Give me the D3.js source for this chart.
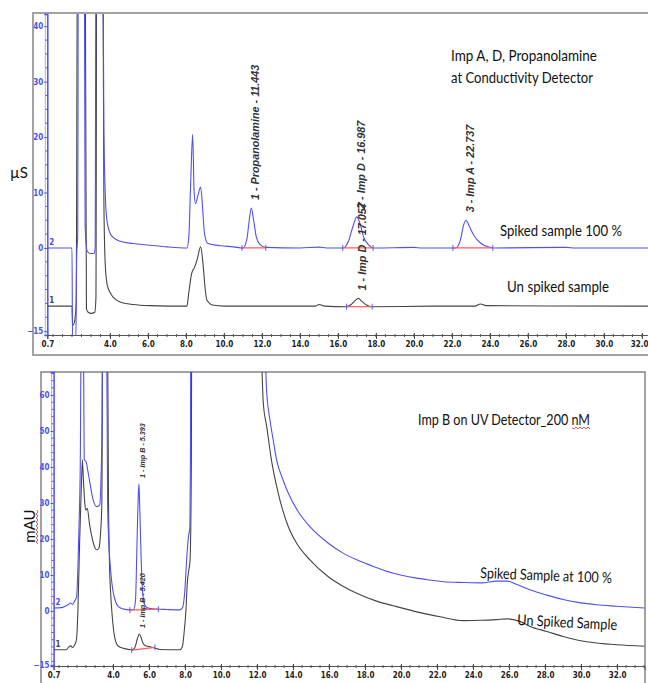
<!DOCTYPE html>
<html><head><meta charset="utf-8">
<script src="https://cdn.jsdelivr.net/npm/d3@7/dist/d3.min.js"></script>
<style>body{margin:0;background:#fff}svg{display:block}</style>
</head><body>
<svg id="c" width="648" height="683"></svg>
<script>
// ---------- DATA ----------
const xTickLabels = [0.7, 4, 6, 8, 10, 12, 14, 16, 18, 20, 22, 24, 26, 28, 30, 32];
const condYTickLabels = [-15, 0, 10, 20, 30, 40];
const uvYTickLabels = [-15, 0, 10, 20, 30, 40, 50, 60];

// Conductivity detector, [time min, µS]
const condSpiked = [[0.7,0],[2.0,0],[2.03,-17],[2.2,-17],[2.25,-1],[2.3,2],[2.34,70],[2.64,70],[2.69,4],[2.8,-0.6],[2.95,-1],[3.15,-1],[3.22,0],[3.27,70],[3.6,70],[3.68,20.7],[3.8,6.3],[3.9,3.8],[4.0,2.7],[4.2,1.8],[4.53,1.2],[5.2,0.8],[6.1,0.5],[7.0,0.2],[8.05,0],[8.15,2],[8.25,12],[8.35,20.5],[8.43,10],[8.5,8],[8.63,9.5],[8.77,11],[8.88,7],[8.97,2.7],[9.15,0.8],[9.8,0.4],[10.5,0.2],[11.0,0],[11.2,1.5],[11.33,5],[11.44,7.2],[11.56,5],[11.7,2],[11.9,0.6],[12.2,0.1],[14,0],[15,0.15],[15.4,0],[16.3,0],[16.55,1.2],[16.8,4],[16.99,5.6],[17.15,4.5],[17.35,2],[17.6,0.6],[17.9,0],[20,0.1],[20.4,0],[22.2,0],[22.45,1.5],[22.62,4.2],[22.74,5.0],[22.9,4.0],[23.15,2.3],[23.5,0.9],[23.9,0.2],[24.2,0],[28,0.1],[28.5,0],[32.32,0]];
const condUnspiked = [[0.7,-10.5],[2.0,-10.5],[2.03,-14],[2.12,-13.5],[2.22,-10],[2.3,70],[2.68,70],[2.76,-11],[2.85,-11.6],[3.0,-11.8],[3.2,-11.6],[3.26,-9],[3.31,70],[3.6,70],[3.68,8],[3.75,-3],[3.85,-6.6],[4.05,-8.3],[4.5,-9.7],[5.2,-10.2],[6.1,-10.4],[8.05,-10.5],[8.15,-8],[8.3,-4.6],[8.45,-3.5],[8.58,-2.2],[8.77,0.2],[8.9,-3],[9.0,-7],[9.1,-9.4],[9.4,-10.3],[10,-10.5],[14.8,-10.5],[15.0,-10.2],[15.3,-10.5],[16.4,-10.6],[16.7,-10.2],[16.9,-9.5],[17.07,-9.1],[17.25,-9.6],[17.5,-10.3],[17.8,-10.6],[21,-10.5],[23.2,-10.5],[23.5,-10.1],[23.8,-10.4],[32.32,-10.5]];

// UV detector, [time min, mAU]
const uvSpiked = [[0.7,0.8],[1.2,1.0],[1.5,1.7],[1.65,2.2],[1.75,1.8],[1.85,2.6],[1.98,4],[2.05,12],[2.12,25],[2.18,40],[2.25,90],[2.34,90],[2.4,42],[2.5,41.5],[2.6,39],[2.72,35.5],[2.9,30.8],[3.09,29],[3.26,29.5],[3.33,36],[3.39,53],[3.43,90],[3.63,90],[3.7,30],[3.76,20],[3.84,13],[3.93,8],[4.02,5],[4.15,2.5],[4.3,1.2],[4.6,0.5],[4.9,0.3],[5.15,0.4],[5.25,3],[5.33,18],[5.4,32],[5.44,35.3],[5.49,28],[5.56,15],[5.64,5.5],[5.75,1.8],[5.9,0.9],[6.2,0.6],[7.0,0.4],[7.7,0.3],[7.85,0.8],[7.98,5],[8.1,15],[8.2,21],[8.27,23],[8.3,40],[8.33,90],[12.3,90],[12.54,60.5],[12.72,53],[12.9,47.5],[13.09,41.9],[13.4,37],[13.74,32.7],[14.3,27.5],[14.94,23.4],[15.96,18.8],[16.8,16],[17.54,14.2],[18.5,12.3],[19.57,10.5],[20.8,9.2],[21.6,8.6],[22.35,8.1],[23.46,7.9],[24.5,7.8],[25.3,8.3],[25.9,8.3],[26.4,7.4],[27.2,5.8],[28.1,4.4],[29.0,3.2],[29.9,2.3],[30.87,1.7],[31.98,1.3],[33.53,0.8]];
const uvUnspiked = [[0.7,-10.8],[1.4,-10.8],[1.55,-10.0],[1.65,-9.7],[1.75,-10.2],[1.85,-9.6],[1.97,-8],[2.05,0],[2.15,20],[2.25,36],[2.3,42],[2.36,36],[2.44,29.5],[2.5,28],[2.57,28.5],[2.7,24],[2.85,20],[3.0,17.5],[3.1,17],[3.22,17.5],[3.3,21],[3.38,30],[3.44,90],[3.68,90],[3.75,30],[3.8,14],[3.88,4],[3.95,-1],[4.05,-6],[4.15,-8.5],[4.3,-9.8],[4.6,-10.4],[5.0,-10.8],[5.18,-10.5],[5.26,-9.5],[5.35,-7.8],[5.46,-6.4],[5.55,-7.2],[5.65,-8.8],[5.78,-9.6],[6.0,-9.9],[6.3,-10.3],[6.6,-10.7],[7.7,-10.8],[7.85,-10],[7.95,-6],[8.05,0],[8.13,8],[8.2,11],[8.28,14],[8.35,40],[8.38,90],[12.1,90],[12.35,57.7],[12.54,51.2],[12.8,42],[13.18,32.7],[13.74,23.4],[14.2,18.8],[14.94,14.2],[15.96,9.5],[16.8,6.8],[17.54,4.9],[18.6,2.8],[19.76,1.2],[21.0,-0.4],[22.17,-1.6],[23.46,-2.7],[24.5,-2.6],[25.3,-2.4],[25.9,-2.2],[26.6,-2.9],[27.17,-4.3],[28.1,-5.7],[29.0,-7.1],[29.9,-8.2],[30.87,-8.9],[31.98,-9.4],[33.53,-9.8]];

// Integration baselines [t1, v1, t2, v2]
const condBaselines = [[10.95,0,12.2,0],[16.25,0,17.85,0],[16.45,-10.6,17.8,-10.6],[22.05,0,24.15,0]];
const uvBaselines = [[4.94,0.2,6.52,0.5],[5.04,-10.9,6.33,-10.1]];

// Peak labels
const condPeakNames = ["1 - Propanolamine - 11.443","2 - Imp D - 16.987","1 - Imp D - 17.057","3 - Imp A - 22.737"];
const condPeakTimes = [11.443, 16.987, 17.057, 22.737];
const condPeakHeights = [7.2, 5.6, -9.1, 5.0];
const uvPeakNames = ["1 - Imp B - 5.393","1 - Imp B - 5.420"];
const uvPeakTimes = [5.393, 5.420];
const uvPeakHeights = [35.3, -6.4];

// ---------- DRAW ----------
const svg = d3.select("#c");
const blue = "#4f4ff2", black = "#454545", red = "#ff5a5a", frameC = "#8c8c8c";
const labelFont = "'DejaVu Sans Condensed','Liberation Sans Narrow','Liberation Sans',sans-serif";

function panel(cfg) {
  const {x, y, id, frame, yTicks, yMinorStep, traces, baselines, names, times, heights, peakFont, peakGap, tagPos, lastEnd} = cfg;
  const [x0, x1] = x.range(), [yb, yt] = y.range();
  svg.append("rect").attr("x", frame[0]).attr("y", frame[1]).attr("width", frame[2]).attr("height", frame[3])
    .attr("fill", "#fff").attr("stroke", frameC).attr("stroke-width", 1.6);
  svg.append("line").attr("x1", x0 - 2).attr("x2", x0 - 2).attr("y1", yt).attr("y2", yb).attr("stroke", "#b5b5b5");
  svg.append("defs").append("clipPath").attr("id", id).append("rect")
    .attr("x", x0).attr("y", yt).attr("width", x1 - x0).attr("height", yb - yt);

  const xa = svg.append("g").attr("transform", `translate(0,${yb})`)
    .call(d3.axisBottom(x).tickValues(xTickLabels).tickSize(4).tickFormat(d3.format(".1f")));
  xa.select(".domain").attr("stroke", "#555");
  xa.selectAll(".tick line").attr("stroke", "#444").attr("y1", -2);
  xa.selectAll("text").attr("font-family", labelFont).attr("font-weight", "bold").attr("font-size", 8).attr("fill", "#222").attr("dy", "0.6em");
  if (lastEnd) xa.selectAll(".tick text").filter(d => d === 32).attr("text-anchor", "end").attr("x", 6);
  const minor = d3.range(1, x.domain()[1], 0.5);
  xa.selectAll(".mnr").data(minor).join("line").attr("x1", d => x(d)).attr("x2", d => x(d)).attr("y1", -1).attr("y2", 2).attr("stroke", "#555");

  const ya = svg.append("g").attr("transform", `translate(${x0},0)`)
    .call(d3.axisLeft(y).tickValues(yTicks).tickSize(3).tickPadding(1));
  ya.select(".domain").attr("stroke", blue).attr("stroke-width", 1.5);
  ya.selectAll(".tick line").attr("stroke", blue);
  ya.selectAll("text").attr("font-family", labelFont).attr("font-weight", "bold").attr("font-size", 8).attr("fill", blue);
  const ym = d3.range(Math.ceil(y.domain()[0] / yMinorStep) * yMinorStep, y.domain()[1], yMinorStep).filter(v => !yTicks.includes(v));
  ya.selectAll(".mnr").data(ym).join("line").attr("x1", -2).attr("x2", 0).attr("y1", d => y(d)).attr("y2", d => y(d)).attr("stroke", blue);

  const g = svg.append("g").attr("clip-path", `url(#${id})`);
  const line = d3.line().x(d => x(d[0])).y(d => y(d[1])).curve(d3.curveMonotoneX);
  traces.forEach(t => g.append("path").datum(t.data).attr("d", line).attr("fill", "none").attr("stroke", t.color).attr("stroke-width", 1.1));
  baselines.forEach(b => {
    g.append("line").attr("x1", x(b[0])).attr("y1", y(b[1])).attr("x2", x(b[2])).attr("y2", y(b[3])).attr("stroke", red).attr("stroke-width", 1.2);
    [[b[0], b[1]], [b[2], b[3]]].forEach(p => g.append("line").attr("x1", x(p[0])).attr("x2", x(p[0])).attr("y1", y(p[1]) - 3).attr("y2", y(p[1]) + 3).attr("stroke", blue).attr("stroke-width", 0.9));
  });
  names.forEach((n, i) => {
    const px = x(times[i]) + 4, py = y(heights[i]) - peakGap;
    svg.append("text").attr("transform", `translate(${px},${py}) rotate(-90)`)
      .attr("font-family", "'Liberation Sans',Arial,sans-serif").attr("font-style", "italic").attr("font-weight", "bold")
      .attr("font-size", peakFont).attr("fill", "#333").attr("dominant-baseline", "central").text(n);
  });
  tagPos.forEach(tp => svg.append("text").attr("x", x0 + 2).attr("y", y(tp.v) - 3).attr("font-family", labelFont)
    .attr("font-size", 8).attr("font-weight", "bold").attr("fill", tp.c).text(tp.t));
}

const xC = d3.scaleLinear().domain([0.7, 32.32]).range([47.3, 648]);
const yC = d3.scaleLinear().domain([-15.7, 42.2]).range([335, 14]);
panel({x: xC, y: yC, id: "clipC", frame: [33, 13, 640, 342], yTicks: condYTickLabels, yMinorStep: 2.5,
  traces: [{data: condUnspiked, color: black}, {data: condSpiked, color: blue}],
  baselines: condBaselines, names: condPeakNames, times: condPeakTimes, heights: condPeakHeights, peakFont: 10.8, peakGap: 8,
  tagPos: [{t: "2", v: 0, c: blue}, {t: "1", v: -10.5, c: black}], lastEnd: true});

const xU = d3.scaleLinear().domain([0.7, 33.53]).range([53.6, 644.6]);
const yU = d3.scaleLinear().domain([-15.3, 66.4]).range([666, 372]);
panel({x: xU, y: yU, id: "clipU", frame: [41, 372, 604, 330], yTicks: uvYTickLabels, yMinorStep: 2,
  traces: [{data: uvUnspiked, color: black}, {data: uvSpiked, color: blue}],
  baselines: uvBaselines, names: uvPeakNames, times: uvPeakTimes, heights: uvPeakHeights, peakFont: 7.2, peakGap: 6,
  tagPos: [{t: "2", v: 0.8, c: blue}, {t: "1", v: -10.8, c: black}], lastEnd: false});

const annFont = "Lato,'Open Sans',sans-serif";
function ann(txt, x, y, size, len, rot) {
  const t = svg.append("text").attr("x", x).attr("y", y).attr("font-family", annFont).attr("font-size", size)
    .attr("fill", "#111").attr("textLength", len).attr("lengthAdjust", "spacingAndGlyphs").text(txt);
  if (rot) t.attr("transform", `rotate(${rot},${x},${y})`);
  return t;
}
ann("Imp A, D, Propanolamine", 451, 61, 16, 146);
ann("at Conductivity Detector", 451, 83, 16, 142);
ann("Spiked sample 100 %", 500, 236, 15.5, 122);
ann("Un spiked sample", 507, 292, 16, 102);
ann("Imp B on UV Detector_200 nM", 418, 425, 14.5, 172);
ann("Spiked Sample at 100 %", 480, 578, 15, 132, 2.2);
ann("Un Spiked Sample", 517, 625, 15, 100, 2.9);

svg.append("text").attr("x", 10).attr("y", 178).attr("font-family", annFont).attr("font-size", 15).attr("fill", "#111").text("µS");
svg.append("text").attr("transform", "translate(35,526) rotate(-90)").attr("text-anchor", "middle")
  .attr("font-family", annFont).attr("font-size", 15).attr("fill", "#111").text("mAU");

function squiggle(x1, y1, len, vertical) {
  let d = `M${x1},${y1}`;
  for (let i = 0; i < len; i += 2) {
    const o = (i / 2) % 2 ? -1 : 1;
    d += vertical ? ` L${x1 + o},${y1 + i + 2}` : ` L${x1 + i + 2},${y1 + o}`;
  }
  svg.append("path").attr("d", d).attr("fill", "none").attr("stroke", "#e03030").attr("stroke-width", 0.8);
}
squiggle(572, 428, 18, false);
squiggle(37, 510, 34, true);
</script>
</body></html>
